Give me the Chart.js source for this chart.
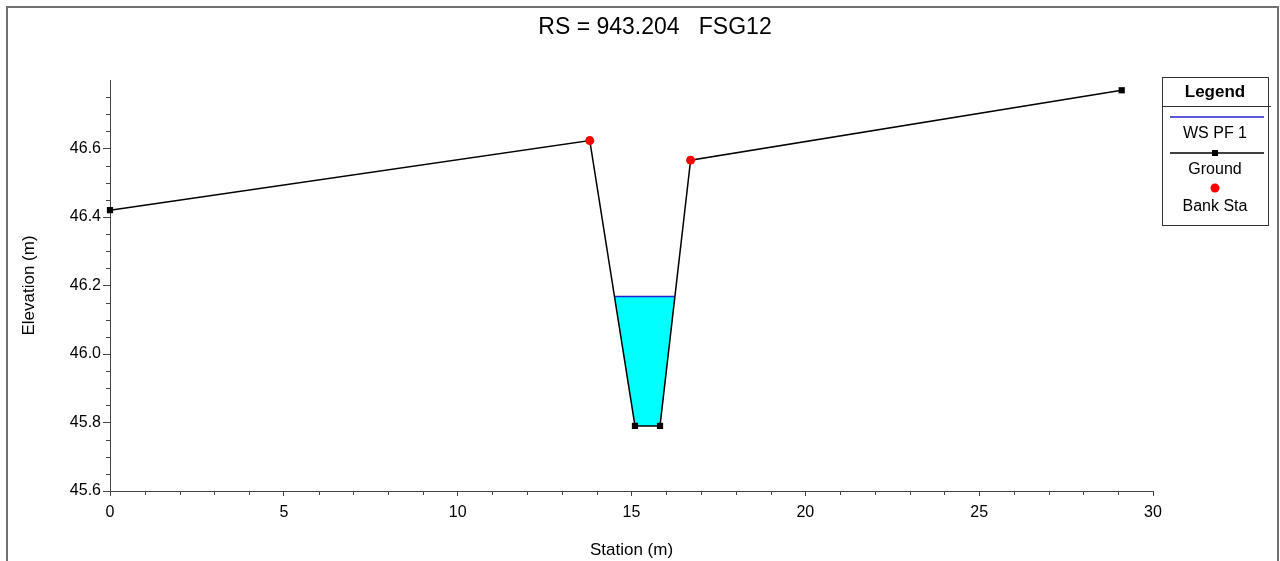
<!DOCTYPE html>
<html>
<head>
<meta charset="utf-8">
<script src="https://cdn.jsdelivr.net/npm/chart.js@4.4.0/dist/chart.umd.min.js"></script>
<style>
  html, body { margin: 0; padding: 0; background: #fff; }
  #frame { position: absolute; left: 6px; top: 6px; width: 1273px; height: 600px; border: 2px solid #707070; box-sizing: border-box; }
  #c { position: absolute; left: 0; top: 0; }
</style>
</head>
<body>
<div id="frame"></div>
<canvas id="c" width="1280" height="561"></canvas>
<script>
const chartTitle = "RS = 943.204   FSG12";
const groundStation = [0, 13.8, 15.1, 15.82, 16.7, 29.1];
const groundElev = [46.42, 46.623, 45.79, 45.79, 46.566, 46.77];
const bankStation = [13.8, 16.7];
const bankElev = [46.623, 46.566];
const wsElev = 46.168;
const xTicks = [0, 5, 10, 15, 20, 25, 30];
const yTicks = [45.6, 45.8, 46.0, 46.2, 46.4, 46.6];

const FONT = "'Liberation Sans', Arial, sans-serif";

// water surface: where the WS level cuts the ground line
let water = [];
for (let i = 0; i < groundStation.length - 1; i++) {
  const x1 = groundStation[i], y1 = groundElev[i];
  const x2 = groundStation[i + 1], y2 = groundElev[i + 1];
  if (y1 <= wsElev) water.push({ x: x1, y: y1 });
  if ((y1 - wsElev) * (y2 - wsElev) < 0) {
    const t = (wsElev - y1) / (y2 - y1);
    water.push({ x: x1 + t * (x2 - x1), y: wsElev });
  }
}
const wsLine = [water[0], water[water.length - 1]];

const ground = groundStation.map((x, i) => ({ x: x, y: groundElev[i] }));
const banks = bankStation.map((x, i) => ({ x: x, y: bankElev[i] }));

const extras = {
  id: "extras",
  afterDraw(chart) {
    const ctx = chart.ctx;
    const xs = chart.scales.x, ys = chart.scales.y;
    const a = chart.chartArea;
    ctx.save();
    // minor ticks
    ctx.strokeStyle = "#444";
    ctx.lineWidth = 1;
    ctx.beginPath();
    for (let v = 1; v < 30; v++) {
      if (v % 5 === 0) continue;
      const px = Math.round(xs.getPixelForValue(v)) + 0.5;
      ctx.moveTo(px, a.bottom);
      ctx.lineTo(px, a.bottom + 4);
    }
    for (let k = 1; k < 24; k++) {
      if (k % 4 === 0) continue;
      const py = Math.round(ys.getPixelForValue(45.6 + k * 0.05)) + 0.5;
      ctx.moveTo(a.left, py);
      ctx.lineTo(a.left - 4, py);
    }
    ctx.stroke();

    // title
    ctx.fillStyle = "#000";
    ctx.font = "23px " + FONT;
    ctx.textAlign = "center";
    ctx.textBaseline = "middle";
    ctx.fillText(chartTitle, 655, 28);

    // legend box
    const lx = 1162, ly = 77, lw = 106, lh = 148, cx = lx + lw / 2;
    ctx.strokeStyle = "#333";
    ctx.lineWidth = 1;
    ctx.strokeRect(lx + 0.5, ly + 0.5, lw, lh);
    ctx.beginPath();
    ctx.moveTo(lx, 106.5);
    ctx.lineTo(1271, 106.5);
    ctx.stroke();
    ctx.font = "bold 17px " + FONT;
    ctx.fillText("Legend", cx, 92);

    ctx.strokeStyle = "#2222cc";
    ctx.lineWidth = 1.4;
    ctx.beginPath();
    ctx.moveTo(lx + 8, 117);
    ctx.lineTo(lx + lw - 4, 117);
    ctx.stroke();
    ctx.font = "16px " + FONT;
    ctx.fillText("WS PF 1", cx, 134);

    ctx.strokeStyle = "#000";
    ctx.beginPath();
    ctx.moveTo(lx + 8, 153);
    ctx.lineTo(lx + lw - 4, 153);
    ctx.stroke();
    ctx.fillRect(cx - 3, 150, 6, 6);
    ctx.fillText("Ground", cx, 170);

    ctx.fillStyle = "#ff0000";
    ctx.beginPath();
    ctx.arc(cx, 188, 4.5, 0, Math.PI * 2);
    ctx.fill();
    ctx.fillStyle = "#000";
    ctx.fillText("Bank Sta", cx, 207);
    ctx.restore();
  }
};

new Chart(document.getElementById("c"), {
  type: "line",
  data: {
    datasets: [
      {
        label: "Bank Sta",
        data: banks,
        showLine: false,
        pointStyle: "circle",
        pointRadius: 4.5,
        pointBackgroundColor: "#ff0000",
        pointBorderWidth: 0,
        order: 0,
        clip: false,
      },
      {
        label: "Ground",
        data: ground,
        borderColor: "#000",
        borderWidth: 1.5,
        pointStyle: "rect",
        pointRadius: 4.4,
        pointBackgroundColor: "#000",
        pointBorderWidth: 0,
        tension: 0,
        order: 1,
        clip: false,
      },
      {
        label: "WS PF 1",
        data: wsLine,
        borderColor: "#2222cc",
        borderWidth: 1.5,
        pointRadius: 0,
        order: 2,
      },
      {
        label: "water",
        data: water,
        borderWidth: 0,
        borderColor: "rgba(0,0,0,0)",
        backgroundColor: "#00ffff",
        fill: "shape",
        pointRadius: 0,
        order: 3,
      },
    ],
  },
  options: {
    responsive: false,
    animation: false,
    devicePixelRatio: 1,
    layout: { padding: { left: 0, top: 80, right: 127, bottom: 0 } },
    plugins: { legend: { display: false }, tooltip: { enabled: false }, title: { display: false } },
    scales: {
      x: {
        type: "linear",
        min: 0,
        max: 30,
        afterBuildTicks: (s) => { s.ticks = xTicks.map((v) => ({ value: v })); },
        afterFit: (s) => { s.height = 70; },
        grid: { drawOnChartArea: false, tickLength: 5, color: "#444" },
        border: { color: "#444", width: 1 },
        ticks: { color: "#000", font: { size: 16, family: FONT }, padding: 7, maxRotation: 0 },
        title: { display: true, text: "Station (m)", color: "#000", font: { size: 17, family: FONT }, padding: { top: 0, bottom: 0 } },
      },
      y: {
        type: "linear",
        min: 45.6,
        max: 46.8,
        afterBuildTicks: (s) => { s.ticks = yTicks.map((v) => ({ value: v })); },
        afterFit: (s) => { s.width = 110; },
        grid: { drawOnChartArea: false, tickLength: 7, color: "#444" },
        border: { color: "#444", width: 1 },
        ticks: { color: "#000", font: { size: 16, family: FONT }, padding: 2, callback: (v) => Number(v).toFixed(1) },
        title: { display: true, text: "Elevation (m)", color: "#000", font: { size: 17, family: FONT }, padding: { top: 19, bottom: 0 } },
      },
    },
  },
  plugins: [extras],
});
</script>
</body>
</html>
